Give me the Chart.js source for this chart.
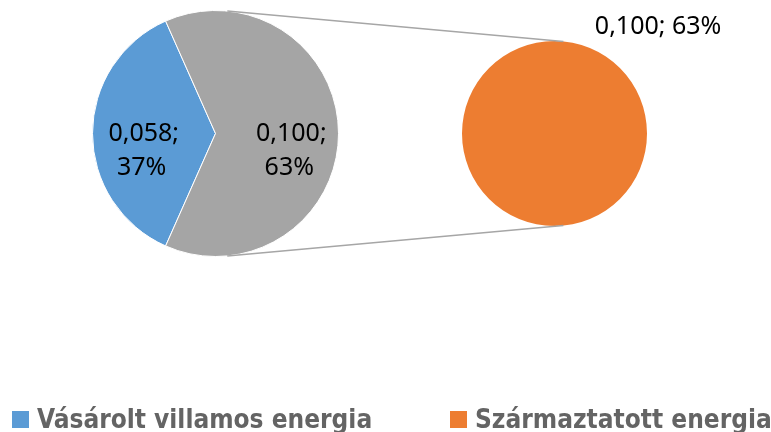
<!DOCTYPE html>
<html>
<head>
<meta charset="utf-8">
<script src="https://cdn.jsdelivr.net/npm/chart.js@4.4.1/dist/chart.umd.min.js"></script>
<style>
  html, body { margin: 0; padding: 0; background: #fff; }
  #wrap { position: relative; width: 771px; height: 432px; overflow: hidden; }
  #wrap canvas { position: absolute; left: 0; top: 0; }
  .leg { position: absolute; top: 403px; height: 32px; line-height: 32px; padding-left: 25px;
         font-family: "Liberation Sans Narrow", "DejaVu Sans Condensed", sans-serif;
         font-weight: bold; font-size: 26px; color: #646464; white-space: nowrap; }
  .leg i { position: absolute; left: 0; top: 8px; width: 17px; height: 17px; }
</style>
</head>
<body>
<div id="wrap">
  <canvas id="mainPie" width="771" height="432"></canvas>
  <canvas id="subPie" width="771" height="432"></canvas>
</div>
<script>
// ====== data ======
const categories = ["Vásárolt villamos energia", "Származtatott energia"];
const values = [0.058, 0.100];
const colors = ["#5b9bd5", "#ed7d31"];
const otherColor = "#a5a5a5";
const total = values[0] + values[1];

const fmtVal = v => v.toFixed(3).replace(".", ",");
const fmtPct = v => Math.round(v / total * 100) + "%";

// ====== Main pie (blue + "other") ======
const mainLabels = {
  id: "mainLabels",
  afterDatasetsDraw(chart) {
    const ctx = chart.ctx;
    const vals = chart.data.datasets[0].data;
    ctx.save();
    ctx.font = "25px 'Noto Sans'";
    ctx.fillStyle = "#000";
    ctx.textAlign = "center";
    ctx.textBaseline = "middle";
    chart.getDatasetMeta(0).data.forEach((arc, i) => {
      const p = arc.getProps(["x", "y", "startAngle", "endAngle", "outerRadius"], true);
      const mid = (p.startAngle + p.endAngle) / 2;
      const lx = p.x + Math.cos(mid) * p.outerRadius * 0.6;
      const ly = p.y + Math.sin(mid) * p.outerRadius * 0.6 + 17;
      ctx.fillText(fmtVal(vals[i]) + ";", lx + 2, ly - 17);
      ctx.fillText(fmtPct(vals[i]), lx, ly + 17);
    });
    ctx.restore();
  }
};

const mainChart = new Chart(document.getElementById("mainPie"), {
  type: "pie",
  data: {
    labels: [categories[0], "Other"],
    datasets: [{
      data: [values[0], values[1]],
      backgroundColor: [colors[0], otherColor],
      borderColor: "#fff",
      borderWidth: 1
    }]
  },
  options: {
    responsive: false,
    animation: false,
    rotation: 270 - values[0] / total * 180,
    layout: { padding: { left: 92, right: 432, top: 10, bottom: 175 } },
    plugins: { legend: { display: false }, tooltip: { enabled: false } }
  },
  plugins: [mainLabels]
});

// ====== Secondary pie (orange) + connector lines ======
const subExtras = {
  id: "subExtras",
  afterDatasetsDraw(chart) {
    const ctx = chart.ctx;
    const a = mainChart.getDatasetMeta(0).data[1].getProps(["x", "y", "outerRadius"], true);
    const b = chart.getDatasetMeta(0).data[0].getProps(["x", "y", "outerRadius"], true);
    const tilt = 5.5 * Math.PI / 180;
    ctx.save();
    ctx.strokeStyle = "#a6a6a6";
    ctx.lineWidth = 1.5;
    [-1, 1].forEach(s => {
      ctx.beginPath();
      ctx.moveTo(a.x + Math.sin(tilt) * a.outerRadius, a.y + s * Math.cos(tilt) * a.outerRadius);
      ctx.lineTo(b.x + Math.sin(tilt) * b.outerRadius, b.y + s * Math.cos(tilt) * b.outerRadius);
      ctx.stroke();
    });
    const v = chart.data.datasets[0].data[0];
    ctx.font = "25px 'Noto Sans'";
    ctx.fillStyle = "#000";
    ctx.textAlign = "center";
    ctx.textBaseline = "middle";
    ctx.fillText(fmtVal(v) + "; " + fmtPct(v), b.x + b.outerRadius * 1.12, b.y - b.outerRadius * 1.15);
    ctx.restore();
  }
};

new Chart(document.getElementById("subPie"), {
  type: "pie",
  data: {
    labels: [categories[1]],
    datasets: [{
      data: [values[1]],
      backgroundColor: [colors[1]],
      borderWidth: 0
    }]
  },
  options: {
    responsive: false,
    animation: false,
    layout: { padding: { left: 462, right: 124, top: 41, bottom: 206 } },
    plugins: { legend: { display: false }, tooltip: { enabled: false } }
  },
  plugins: [subExtras]
});

// ====== Legend ======
const legendLeft = [12, 450];
categories.forEach((name, i) => {
  const d = document.createElement("div");
  d.className = "leg";
  d.style.left = legendLeft[i] + "px";
  d.innerHTML = '<i style="background:' + colors[i] + '"></i>' + name;
  document.getElementById("wrap").appendChild(d);
});
</script>
</body>
</html>
